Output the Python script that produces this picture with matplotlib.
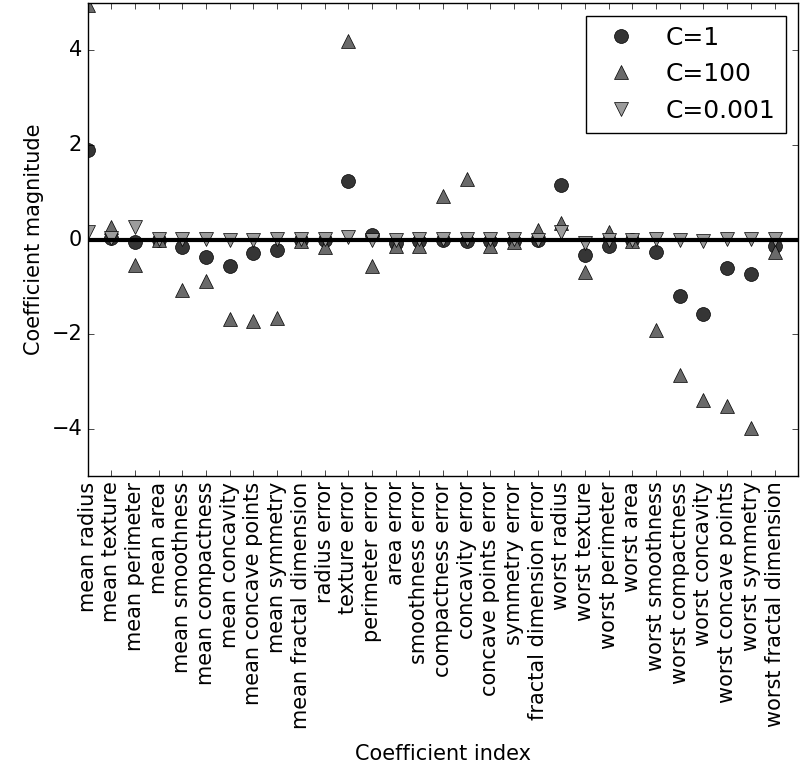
import matplotlib
matplotlib.use("Agg")
import matplotlib.pyplot as plt
import numpy as np

# breast cancer feature names
feature_names = [
    "mean radius", "mean texture", "mean perimeter", "mean area",
    "mean smoothness", "mean compactness", "mean concavity",
    "mean concave points", "mean symmetry", "mean fractal dimension",
    "radius error", "texture error", "perimeter error", "area error",
    "smoothness error", "compactness error", "concavity error",
    "concave points error", "symmetry error", "fractal dimension error",
    "worst radius", "worst texture", "worst perimeter", "worst area",
    "worst smoothness", "worst compactness", "worst concavity",
    "worst concave points", "worst symmetry", "worst fractal dimension",
]

# coefficients
coef_c1 = [1.89, 0.03, -0.06, 0.00, -0.16, -0.37, -0.56, -0.28, -0.23, 0.00,
           -0.02, 1.24, 0.10, -0.07, -0.03, 0.00, -0.03, -0.03, -0.03, 0.00,
           1.15, -0.32, -0.13, -0.01, -0.26, -1.20, -1.57, -0.60, -0.72, -0.13]
coef_c100 = [4.95, 0.26, -0.54, -0.02, -1.06, -0.88, -1.67, -1.72, -1.65, -0.03,
             -0.15, 4.20, -0.55, -0.13, -0.14, 0.93, 1.29, -0.14, -0.06, 0.21,
             0.35, -0.69, 0.16, -0.03, -1.91, -2.86, -3.39, -3.52, -3.98, -0.26]
coef_c001 = [0.15, 0.04, 0.26, 0.01, 0.02, 0.01, 0.00, 0.00, 0.02, 0.01,
             0.01, 0.05, 0.00, -0.02, 0.02, 0.02, 0.02, 0.01, 0.01, 0.00,
             0.16, -0.07, -0.02, 0.00, 0.02, -0.01, -0.03, 0.02, 0.02, 0.02]

plt.style.use("classic")
plt.rcParams["figure.facecolor"] = "white"
plt.rcParams["savefig.facecolor"] = "white"
plt.rcParams["font.family"] = "DejaVu Sans"

fig = plt.figure(figsize=(8.12, 7.74), dpi=100)
ax = fig.add_axes([0.108, 0.385, 0.875, 0.611])

ms = 10
ax.plot(coef_c1, "o", color="#353535", mec="black", ms=ms, label="C=1")
ax.plot(coef_c100, "^", color="#6a6a6a", mec="black", ms=ms, label="C=100")
ax.plot(coef_c001, "v", color="#9c9c9c", mec="black", ms=ms, label="C=0.001")

ax.set_xticks(range(len(feature_names)))
ax.set_xticklabels(feature_names, rotation=90, fontsize=15)
ax.hlines(0, 0, len(feature_names), color="black", linewidth=3)
ax.set_xlim(0, len(feature_names))
ax.set_ylim(-5, 5)
ax.tick_params(labelsize=15)
ax.set_xlabel("Coefficient index", fontsize=15, labelpad=11)
ax.set_ylabel("Coefficient magnitude", fontsize=15)
ax.legend(loc="upper right", numpoints=1, fontsize=18)

fig.savefig("out.png", dpi=100)
